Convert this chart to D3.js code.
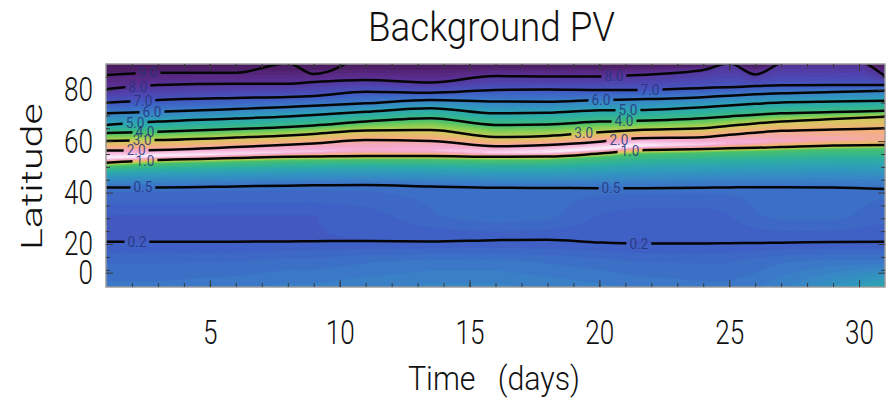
<!DOCTYPE html>
<html>
<head>
<meta charset="utf-8">
<script src="https://cdn.jsdelivr.net/npm/d3@7"></script>
<style>
  html, body { margin: 0; padding: 0; background: #ffffff; }
  svg { display: block; }
  text { font-family: Roboto, "Liberation Sans", "DejaVu Sans", sans-serif; }
</style>
</head>
<body>
<svg id="chart" width="891" height="401"></svg>
<script>
// ---------------------------------------------------------------------------
// Data
// ---------------------------------------------------------------------------

// Time nodes (days) at which the contour latitudes are tabulated
const days = [1, 3, 6, 8, 9, 11, 13.5, 16, 18, 20, 21.5, 24, 25, 26, 27, 29, 31];

// Latitude (deg) of each background-PV contour at those days; null = beyond the pole
const pv02 = [20.9, 20.9, 20.9, 21.0, 21.1, 21.2, 21.0, 21.5, 21.7, 20.6, 20.2, 20.2, 20.3, 20.4, 20.5, 20.8, 20.9];
const pv05 = [42.0, 42.0, 42.4, 42.7, 42.8, 42.9, 42.4, 41.9, 41.8, 41.7, 41.7, 41.9, 42.0, 42.1, 42.1, 42.0, 41.4];
const pv10 = [51.6, 52.7, 53.4, 53.9, 54.0, 54.2, 54.2, 53.9, 54.0, 55.2, 56.4, 56.9, 57.2, 57.4, 57.7, 58.3, 58.5];
const pv20 = [56.4, 56.6, 57.7, 58.6, 59.1, 60.4, 60.1, 58.0, 58.5, 59.8, 61.1, 61.5, 62.5, 63.3, 64.0, 64.5, 65.0];
const pv30 = [60.1, 60.4, 61.4, 62.2, 62.8, 64.1, 64.3, 61.6, 62.0, 63.5, 64.3, 65.0, 66.0, 66.9, 67.6, 68.6, 69.5];
const pv40 = [63.2, 63.7, 64.7, 65.5, 66.1, 67.6, 68.9, 66.3, 66.5, 67.6, 67.9, 68.9, 69.6, 70.3, 70.8, 71.3, 71.8];
const pv50 = [66.3, 67.6, 68.8, 69.6, 70.2, 71.4, 72.8, 70.8, 71.0, 72.0, 72.1, 73.2, 73.9, 74.5, 75.0, 75.4, 75.7];
const pv60 = [70.8, 71.4, 72.5, 73.3, 73.8, 74.7, 76.0, 75.4, 75.3, 76.0, 76.3, 77.1, 77.7, 78.2, 78.6, 79.1, 79.6];
const pv70 = [74.9, 76.0, 76.8, 77.2, 77.6, 79.2, 78.8, 79.9, 80.1, 79.9, 79.9, 80.7, 81.0, 81.4, 81.7, 81.8, 81.8];
const pv80 = [80.2, 81.8, 82.3, 82.3, 83.0, 83.8, 82.8, 85.3, 85.1, 85.1, 85.7, 87.7, 90.3, 85.9, 90.6, 95.0, 85.3];
const pv90 = [85.7, 86.6, 86.6, 90.3, 86.1, 95.0, null, null, null, null, null, null, null, null, null, null, null];

const contourSeries = [pv02, pv05, pv10, pv20, pv30, pv40, pv50, pv60, pv70, pv80, pv90];
const levelNames = ["0.2", "0.5", "1.0", "2.0", "3.0", "4.0", "5.0", "6.0", "7.0", "8.0", "9.0"];

// Where each contour carries its label (day); null = unlabelled
const labelDaysWest = [2.19, 2.42, 2.50, 2.16, 2.39, 2.50, 2.12, 2.77, 2.42, 2.23, 2.62];
const labelDaysEast = [21.52, 20.45, 21.18, 20.75, 19.40, 20.95, 21.10, 20.06, 21.95, 20.56, null];

// Shaded field: value carried along the contours 3.0 ... 8.0
const lineShade = [0.74, 0.58, 0.47, 0.36, 0.25, 0.15];
// fixed values: 0.2 contour, 0.5 contour, midway 0.5-1.0, just under 1.0, on 1.0, pole
const innerShade = [0.27, 0.32, 0.45, 0.60, 0.76, 0.05];
// jet maximum (between 1.0 and 2.0) and the value on the 2.0 contour, per day node
const peakShade = [1.00, 1.00, 0.98, 0.96, 0.95, 0.93, 0.94, 0.97, 0.99, 1.00, 1.00, 0.96, 0.94, 0.93, 0.91, 0.89, 0.87];
const shade20   = [0.90, 0.90, 0.89, 0.88, 0.88, 0.87, 0.88, 0.89, 0.90, 0.90, 0.90, 0.88, 0.87, 0.86, 0.85, 0.84, 0.83];
// low-latitude values at fixed latitudes, per day node
const shadeLats = [-10, 8, 31];
const shadeBottom = [0.34, 0.34, 0.35, 0.36, 0.36, 0.37, 0.38, 0.38, 0.37, 0.36, 0.35, 0.34, 0.34, 0.35, 0.37, 0.42, 0.48];
const shadeLow    = [0.31, 0.31, 0.31, 0.32, 0.32, 0.33, 0.34, 0.34, 0.33, 0.32, 0.31, 0.31, 0.31, 0.32, 0.33, 0.34, 0.34];
const shadeMid    = [0.27, 0.27, 0.27, 0.27, 0.27, 0.28, 0.31, 0.33, 0.32, 0.29, 0.28, 0.28, 0.29, 0.31, 0.32, 0.32, 0.30];

// Colour table
const shadeStops  = [0, 0.06, 0.12, 0.20, 0.28, 0.36, 0.44, 0.52, 0.60, 0.68, 0.76, 0.84, 0.92, 1.0];
const shadeColors = ["#3d1650", "#4b1c5e", "#5a2a8a", "#4f45b0", "#3f60c4", "#3a7ec8", "#2f9cbc",
                     "#2db0a0", "#48c06c", "#8ed050", "#d4c860", "#f4b07a", "#f4a6d2", "#fbf4ff"];

// Axis ticks
const xTicks = [5, 10, 15, 20, 25, 30];
const xMinorTicks = d3.range(2, 31);
const yTicks = [0, 20, 40, 60, 80];
const yMinorTicks = [2, 11, 25, 30, 35, 45, 50, 55, 65, 70, 75, 85];

// ---------------------------------------------------------------------------
// Scales
// ---------------------------------------------------------------------------
const svg = d3.select("#chart");
const x = d3.scaleLinear().domain([1, 31]).range([106, 885]);
const y = d3.scaleLinear().domain([-10, 20, 90]).range([287, 244, 64]);
const [px0, px1] = x.range();
const py0 = y(90), py1 = y(-10);
const shade = d3.scaleLinear().domain(shadeStops).range(shadeColors)
  .interpolate(d3.interpolateRgb).clamp(true);

const overDays = arr => d3.scaleLinear().domain(days).range(arr);
const lineFns = contourSeries.slice(0, 10).map(overDays);
const peakFn = overDays(peakShade), s20Fn = overDays(shade20);
const bottomFn = overDays(shadeBottom), lowFn = overDays(shadeLow), midFn = overDays(shadeMid);

// Profile of the shaded field along latitude on a given day
function profile(d) {
  const L = lineFns.map(f => f(d));
  const a = [
    [shadeLats[0], bottomFn(d)],
    [shadeLats[1], lowFn(d)],
    [L[0], innerShade[0]],
    [shadeLats[2], midFn(d)],
    [L[1], innerShade[1]],
    [(L[1] + L[2]) / 2, innerShade[2]],
    [L[2] - 1.3, innerShade[3]],
    [L[2] - 0.3, innerShade[4]],
    [L[2] + 0.38 * (L[3] - L[2]), peakFn(d)],
    [L[3], s20Fn(d)],
    [L[4], lineShade[0]],
    [L[5], lineShade[1]],
    [L[6], lineShade[2]],
    [L[7], lineShade[3]],
    [L[8], lineShade[4]],
    [Math.min(L[9], 89.4), lineShade[5]],
    [90, innerShade[5]]
  ];
  for (let k = 1; k < a.length; k++) if (a[k][0] <= a[k - 1][0]) a[k][0] = a[k - 1][0] + 0.01;
  return a;
}
const bis = d3.bisector(p => p[0]).right;
function valueAt(prof, lat) {
  if (lat <= prof[0][0]) return prof[0][1];
  if (lat >= prof[prof.length - 1][0]) return prof[prof.length - 1][1];
  const k = bis(prof, lat);
  const p0 = prof[k - 1], p1 = prof[k];
  return p0[1] + (p1[1] - p0[1]) * (lat - p0[0]) / (p1[0] - p0[0]);
}

// ---------------------------------------------------------------------------
// Filled contours of the shaded field
// ---------------------------------------------------------------------------
const nx = 260, ny = 223;
const cw = (px1 - px0) / nx, ch = (py1 - py0) / ny;
const grid = new Float64Array(nx * ny);
for (let i = 0; i < nx; i++) {
  const prof = profile(x.invert(px0 + (i + 0.5) * cw));
  for (let j = 0; j < ny; j++) {
    grid[j * nx + i] = valueAt(prof, y.invert(py0 + (j + 0.5) * ch));
  }
}
const nLev = 48;
const bands = d3.contours().size([nx, ny]).thresholds(d3.range(0, nLev).map(k => k / nLev))(grid);
const toPlot = d3.geoTransform({
  point(gx, gy) { this.stream.point(px0 + gx * cw, py0 + gy * ch); }
});
const defs = svg.append("defs");
defs.append("clipPath").attr("id", "plotClip")
  .append("rect").attr("x", px0).attr("y", py0).attr("width", px1 - px0).attr("height", py1 - py0);

svg.append("g").attr("clip-path", "url(#plotClip)")
  .selectAll("path").data(bands).join("path")
  .attr("d", d3.geoPath(toPlot))
  .attr("fill", b => shade(b.value + 0.5 / nLev))
  .attr("stroke", b => shade(b.value + 0.5 / nLev))
  .attr("stroke-width", 0.3);

// ---------------------------------------------------------------------------
// PV contour lines and their labels
// ---------------------------------------------------------------------------
function latOn(series, d) {
  for (let k = 0; k < days.length - 1; k++) {
    if (d >= days[k] && d <= days[k + 1] && series[k] != null && series[k + 1] != null) {
      return series[k] + (series[k + 1] - series[k]) * (d - days[k]) / (days[k + 1] - days[k]);
    }
  }
  return null;
}
const labels = [];
contourSeries.forEach((s, li) => {
  [labelDaysWest[li], labelDaysEast[li]].forEach(d => {
    if (d == null) return;
    const lat = latOn(s, d);
    if (lat != null) labels.push({ text: levelNames[li], day: d, lat });
  });
});

const charW = 6.3;
const labelG = svg.append("g");
labelG.selectAll("text").data(labels).join("text")
  .attr("x", d => x(d.day)).attr("y", d => y(d.lat))
  .attr("dy", "0.36em")
  .attr("text-anchor", "middle")
  .attr("font-size", 14)
  .attr("textLength", d => d.text.length * charW)
  .attr("lengthAdjust", "spacingAndGlyphs")
  .attr("fill", "#26347a")
  .attr("fill-opacity", 0.85)
  .text(d => d.text);

const mask = defs.append("mask").attr("id", "labelGaps")
  .attr("maskUnits", "userSpaceOnUse")
  .attr("x", 0).attr("y", 0).attr("width", 891).attr("height", 401);
mask.append("rect").attr("width", 891).attr("height", 401).attr("fill", "#fff");
mask.selectAll("rect.gap").data(labels).join("rect").attr("class", "gap")
  .attr("x", d => x(d.day) - d.text.length * charW / 2 - 3)
  .attr("y", d => y(d.lat) - 6)
  .attr("width", d => d.text.length * charW + 6)
  .attr("height", 12)
  .attr("fill", "#000");

const line = d3.line()
  .defined(v => v != null)
  .x((v, i) => x(days[i]))
  .y(v => y(v))
  .curve(d3.curveMonotoneX);

svg.append("g").attr("clip-path", "url(#plotClip)")
  .append("g").attr("mask", "url(#labelGaps)")
  .selectAll("path").data(contourSeries).join("path")
  .attr("d", s => line(s))
  .attr("fill", "none")
  .attr("stroke", "#050505")
  .attr("stroke-width", 2.5)
  .attr("stroke-linejoin", "round");

labelG.raise();

// ---------------------------------------------------------------------------
// Frame and axes
// ---------------------------------------------------------------------------
svg.append("rect")
  .attr("x", px0).attr("y", py0).attr("width", px1 - px0).attr("height", py1 - py0)
  .attr("fill", "none").attr("stroke", "#9a9a9a").attr("stroke-width", 1.5);

function styleAxis(g) {
  g.select(".domain").remove();
  g.selectAll(".tick line").attr("stroke", "#3a3a3a").attr("stroke-width", 1);
}

// minor ticks on all four sides (inward)
svg.append("g").attr("transform", `translate(0,${py1})`)
  .call(d3.axisBottom(x).tickValues(xMinorTicks).tickSize(-4).tickFormat(""))
  .call(styleAxis);
svg.append("g").attr("transform", `translate(0,${py0})`)
  .call(d3.axisTop(x).tickValues(xMinorTicks).tickSize(-4).tickFormat(""))
  .call(styleAxis);
svg.append("g").attr("transform", `translate(${px0},0)`)
  .call(d3.axisLeft(y).tickValues(yMinorTicks).tickSize(-4).tickFormat(""))
  .call(styleAxis);
svg.append("g").attr("transform", `translate(${px1},0)`)
  .call(d3.axisRight(y).tickValues(yMinorTicks).tickSize(-4).tickFormat(""))
  .call(styleAxis);

// major ticks with labels
const xAxis = svg.append("g").attr("transform", `translate(0,${py1})`)
  .call(d3.axisBottom(x).tickValues(xTicks).tickSize(-7).tickPadding(33).tickFormat(d3.format("d")))
  .call(styleAxis);
svg.append("g").attr("transform", `translate(0,${py0})`)
  .call(d3.axisTop(x).tickValues(xTicks).tickSize(-7).tickFormat(""))
  .call(styleAxis);
const yAxis = svg.append("g").attr("transform", `translate(${px0},0)`)
  .call(d3.axisLeft(y).tickValues(yTicks).tickSize(-7).tickPadding(13).tickFormat(d3.format("d")))
  .call(styleAxis);
svg.append("g").attr("transform", `translate(${px1},0)`)
  .call(d3.axisRight(y).tickValues(yTicks).tickSize(-7).tickFormat(""))
  .call(styleAxis);

[xAxis, yAxis].forEach(g => {
  g.attr("font-family", null).attr("font-size", null);
  g.selectAll(".tick text")
    .attr("font-size", 34)
    .attr("font-weight", 300)
    .attr("fill", "#111")
    .attr("textLength", d => String(d).length * 14.5)
    .attr("lengthAdjust", "spacingAndGlyphs");
});

// ---------------------------------------------------------------------------
// Titles
// ---------------------------------------------------------------------------
svg.append("text")
  .attr("x", 491.5).attr("y", 41)
  .attr("text-anchor", "middle")
  .attr("font-size", 40).attr("font-weight", 300).attr("fill", "#111")
  .attr("textLength", 247).attr("lengthAdjust", "spacingAndGlyphs")
  .text("Background PV");

svg.append("text")
  .attr("x", 494).attr("y", 390)
  .attr("text-anchor", "middle")
  .attr("font-size", 34).attr("font-weight", 300).attr("fill", "#111")
  .attr("textLength", 172).attr("lengthAdjust", "spacingAndGlyphs")
  .style("white-space", "pre")
  .text("Time   (days)");

svg.append("text")
  .attr("transform", "translate(42,176.5) rotate(-90)")
  .attr("text-anchor", "middle")
  .attr("font-size", 30).attr("font-weight", 300).attr("fill", "#111")
  .attr("textLength", 147).attr("lengthAdjust", "spacingAndGlyphs")
  .text("Latitude");
</script>
</body>
</html>
